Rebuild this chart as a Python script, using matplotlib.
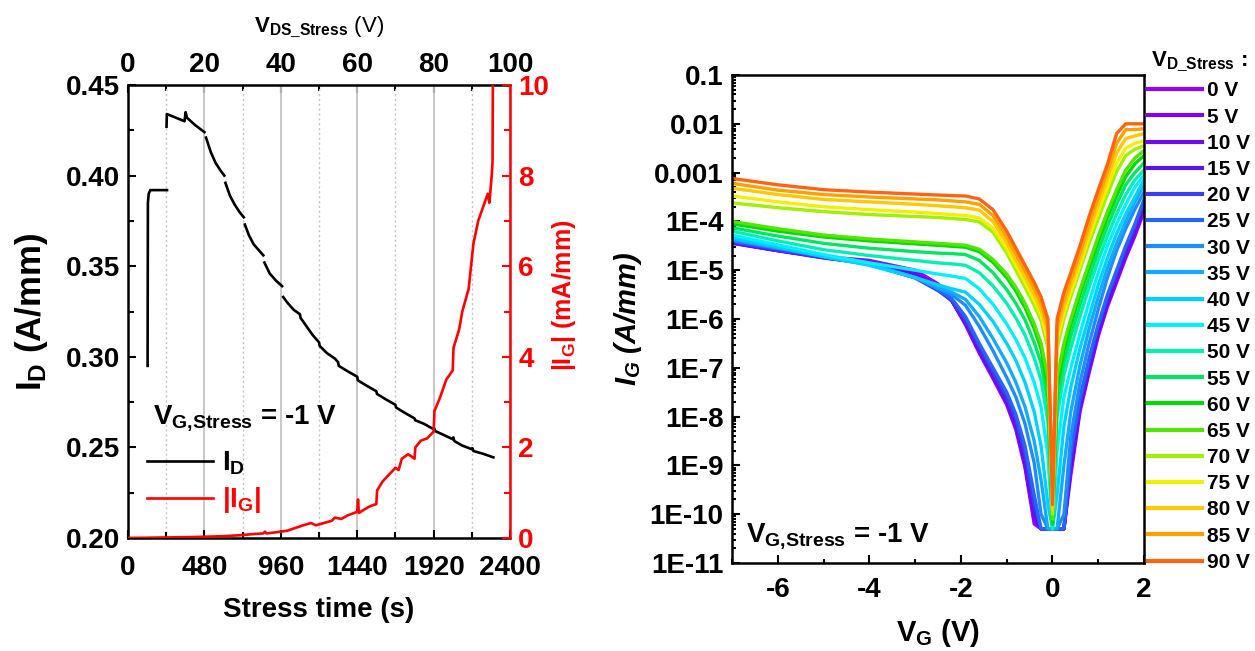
import numpy as np
import matplotlib
matplotlib.use('Agg')
import matplotlib.pyplot as plt
from matplotlib.ticker import MultipleLocator, FuncFormatter, LogLocator, NullFormatter
from matplotlib.lines import Line2D

plt.rcParams['font.family'] = ['Liberation Sans', 'DejaVu Sans']
plt.rcParams['font.weight'] = 'bold'
plt.rcParams['axes.labelweight'] = 'bold'
plt.rcParams['axes.unicode_minus'] = False
plt.rcParams['mathtext.fontset'] = 'custom'
plt.rcParams['mathtext.rm'] = 'Liberation Sans'
plt.rcParams['mathtext.bf'] = 'Liberation Sans:bold'
plt.rcParams['mathtext.it'] = 'Liberation Sans:bold:italic'

# ---------------- Left panel data ----------------
nan = np.nan
id_time = [123, 125, 130, 140, 200, 245, nan,
           242, 244, 300, 355, 362, 370, 420, 480, nan,
           490, 520, 550, 580, 605, nan,
           612, 640, 670, 700, 727, nan,
           734, 760, 790, 820, 850, nan,
           857, 890, 930, 968, nan,
           975, 1000, 1040, 1080, 1084, 1120, 1160, 1200, 1204, 1250, 1300, 1320, 1324,
           1380, 1440, 1444, 1500, 1560, 1564, 1620, 1680, 1684, 1740, 1800, 1804, 1860,
           1920, 1924, 1930, 1980, 2040, 2044, 2050, 2100, 2160, 2164, 2170, 2230, 2295]
id_value = [0.295, 0.385, 0.390, 0.392, 0.392, 0.392, nan,
            0.427, 0.434, 0.432, 0.430, 0.435, 0.432, 0.428, 0.424, nan,
            0.421, 0.413, 0.407, 0.403, 0.400, nan,
            0.396, 0.389, 0.384, 0.380, 0.377, nan,
            0.373, 0.367, 0.362, 0.359, 0.356, nan,
            0.352, 0.346, 0.342, 0.339, nan,
            0.333, 0.330, 0.326, 0.3235, 0.3215, 0.317, 0.312, 0.308, 0.306, 0.302, 0.299, 0.297, 0.295,
            0.292, 0.289, 0.287, 0.284, 0.281, 0.2795, 0.2765, 0.2735, 0.272, 0.269, 0.266, 0.265, 0.263,
            0.260, 0.2605, 0.259, 0.257, 0.2545, 0.2555, 0.2535, 0.251, 0.249, 0.2495, 0.248, 0.2465, 0.2445]

ig_time = [0, 200, 400, 600, 700, 800, 850, 860, 870, 960, 1000, 1050, 1100, 1150, 1180, 1220,
           1280, 1300, 1340, 1380, 1420, 1440, 1445, 1450, 1480, 1520, 1560, 1565, 1600, 1640,
           1680, 1700, 1720, 1760, 1800, 1805, 1840, 1880, 1920, 1925, 1960, 2000, 2040, 2045,
           2080, 2100, 2140, 2170, 2200, 2230, 2260, 2270, 2285, 2290, 2292]
ig_value = [0.0, 0.01, 0.02, 0.04, 0.06, 0.09, 0.10, 0.14, 0.10, 0.14, 0.16, 0.22, 0.28, 0.33, 0.28, 0.32,
            0.38, 0.45, 0.42, 0.50, 0.55, 0.58, 0.85, 0.55, 0.62, 0.70, 0.75, 1.05, 1.25, 1.40,
            1.55, 1.50, 1.75, 1.85, 1.75, 2.00, 2.15, 2.20, 2.35, 2.80, 3.10, 3.50, 3.70, 4.20,
            4.60, 5.00, 5.50, 6.50, 7.00, 7.30, 7.60, 7.40, 8.00, 8.30, 10.0]

# ---------------- Right panel data (log10 of I_G in A/mm) ----------------
vd_stress = [0, 5, 10, 15, 20, 25, 30, 35, 40, 45, 50, 55, 60, 65, 70, 75, 80, 85, 90]
vg_grid = [-7, -6, -5, -4, -3, -2.5, -2.2, -1.9, -1.6, -1.3, -1.0, -0.8, -0.6, -0.4, -0.25, -0.1,
           0, 0.1, 0.25, 0.4, 0.6, 0.8, 1.0, 1.2, 1.4, 1.6, 1.8, 2.0]
ig_log10 = [
    # 0 V
    [-4.45, -4.60, -4.72, -4.80, -5.00, -5.28, -5.62, -6.12, -6.70, -7.22, -7.76, -8.27, -9.05, -10.2,
     -10.3, -10.3, -10.3, -10.3, -10.3, -9.2, -7.90, -7.10, -6.35, -5.75, -5.25, -4.75, -4.30, -3.80],
    # 5 V
    [-4.44, -4.60, -4.74, -4.84, -5.05, -5.33, -5.63, -6.10, -6.66, -7.18, -7.72, -8.22, -9.00, -10.1,
     -10.3, -10.3, -10.3, -10.3, -10.3, -9.1, -7.85, -7.05, -6.30, -5.70, -5.20, -4.70, -4.25, -3.75],
    # 10 V
    [-4.44, -4.60, -4.75, -4.86, -5.10, -5.38, -5.63, -6.08, -6.63, -7.15, -7.68, -8.18, -8.95, -10.0,
     -10.3, -10.3, -10.3, -10.3, -10.3, -9.0, -7.80, -7.00, -6.25, -5.65, -5.15, -4.65, -4.20, -3.70],
    # 15 V
    [-4.43, -4.58, -4.74, -4.87, -5.12, -5.40, -5.62, -6.05, -6.60, -7.12, -7.65, -8.12, -8.85, -9.9,
     -10.3, -10.3, -10.3, -10.3, -10.3, -8.9, -7.75, -6.95, -6.20, -5.60, -5.10, -4.60, -4.15, -3.65],
    # 20 V
    [-4.42, -4.58, -4.74, -4.88, -5.16, -5.42, -5.62, -6.02, -6.56, -7.08, -7.60, -8.05, -8.75, -9.8,
     -10.3, -10.3, -10.3, -10.3, -10.3, -8.8, -7.70, -6.90, -6.15, -5.55, -5.05, -4.55, -4.10, -3.60],
    # 25 V
    [-4.40, -4.56, -4.72, -4.87, -5.15, -5.40, -5.58, -5.95, -6.50, -7.00, -7.50, -7.95, -8.60, -9.6,
     -10.3, -10.3, -10.3, -10.3, -10.3, -8.7, -7.60, -6.80, -6.10, -5.50, -5.00, -4.50, -4.05, -3.55],
    # 30 V
    [-4.38, -4.55, -4.72, -4.87, -5.15, -5.38, -5.50, -5.72, -6.15, -6.65, -7.20, -7.60, -8.15, -8.95,
     -10.0, -10.3, -10.3, -10.3, -10.0, -8.4, -7.30, -6.50, -5.80, -5.15, -4.60, -4.15, -3.75, -3.40],
    # 35 V
    [-4.36, -4.54, -4.72, -4.88, -5.15, -5.35, -5.45, -5.60, -5.95, -6.40, -6.90, -7.30, -7.80, -8.50,
     -9.3, -10.3, -10.3, -10.3, -9.0, -7.9, -6.95, -6.20, -5.55, -4.95, -4.45, -4.00, -3.60, -3.25],
    # 40 V
    [-4.33, -4.52, -4.72, -4.90, -5.15, -5.30, -5.38, -5.45, -5.70, -6.05, -6.50, -6.85, -7.30, -7.90,
     -8.6, -9.8, -10.3, -9.6, -8.2, -7.4, -6.60, -5.95, -5.30, -4.75, -4.25, -3.85, -3.50, -3.15],
    # 45 V
    [-4.28, -4.48, -4.68, -4.85, -5.00, -5.08, -5.12, -5.17, -5.38, -5.70, -6.10, -6.42, -6.80, -7.30,
     -7.8, -8.8, -10.3, -8.7, -7.6, -7.0, -6.30, -5.65, -5.05, -4.50, -4.05, -3.65, -3.30, -3.05],
    # 50 V
    [-4.20, -4.40, -4.58, -4.70, -4.80, -4.85, -4.87, -4.90, -5.05, -5.32, -5.68, -5.98, -6.33, -6.80,
     -7.25, -8.1, -10.3, -8.0, -7.15, -6.6, -5.95, -5.35, -4.80, -4.30, -3.85, -3.45, -3.15, -2.95],
    # 55 V
    [-4.13, -4.30, -4.45, -4.55, -4.62, -4.65, -4.66, -4.68, -4.80, -5.05, -5.40, -5.68, -6.02, -6.48,
     -6.9, -7.7, -10.2, -7.7, -6.9, -6.35, -5.72, -5.15, -4.60, -4.10, -3.65, -3.25, -3.00, -2.80],
    # 60 V
    [-4.05, -4.20, -4.32, -4.40, -4.46, -4.49, -4.51, -4.53, -4.62, -4.84, -5.15, -5.43, -5.77, -6.20,
     -6.62, -7.4, -10.2, -7.4, -6.65, -6.12, -5.50, -4.95, -4.42, -3.92, -3.48, -3.08, -2.82, -2.65],
    # 65 V
    [-4.00, -4.15, -4.28, -4.36, -4.42, -4.45, -4.47, -4.49, -4.57, -4.78, -5.08, -5.35, -5.68, -6.10,
     -6.5, -7.2, -10.1, -7.2, -6.5, -6.0, -5.40, -4.85, -4.30, -3.80, -3.35, -2.95, -2.70, -2.55],
    # 70 V
    [-3.62, -3.72, -3.80, -3.86, -3.90, -3.92, -3.94, -3.96, -4.01, -4.22, -4.65, -5.00, -5.35, -5.72,
     -6.03, -6.6, -10.0, -6.6, -6.0, -5.55, -5.00, -4.45, -3.95, -3.45, -2.98, -2.65, -2.52, -2.45],
    # 75 V
    [-3.48, -3.60, -3.70, -3.76, -3.81, -3.84, -3.86, -3.88, -3.93, -4.14, -4.56, -4.90, -5.25, -5.62,
     -5.92, -6.45, -9.9, -6.45, -5.88, -5.45, -4.90, -4.32, -3.80, -3.30, -2.80, -2.50, -2.40, -2.35],
    # 80 V
    [-3.32, -3.45, -3.55, -3.60, -3.65, -3.68, -3.70, -3.72, -3.77, -4.00, -4.44, -4.79, -5.14, -5.50,
     -5.80, -6.3, -9.9, -6.3, -5.75, -5.32, -4.78, -4.20, -3.65, -3.12, -2.60, -2.30, -2.25, -2.20],
    # 85 V
    [-3.22, -3.36, -3.45, -3.50, -3.54, -3.56, -3.58, -3.60, -3.65, -3.88, -4.32, -4.67, -5.02, -5.38,
     -5.68, -6.15, -9.8, -6.15, -5.60, -5.20, -4.65, -4.05, -3.50, -2.98, -2.40, -2.12, -2.12, -2.10],
    # 90 V
    [-3.12, -3.25, -3.35, -3.40, -3.44, -3.46, -3.47, -3.48, -3.54, -3.76, -4.20, -4.55, -4.90, -5.25,
     -5.55, -6.0, -9.8, -6.0, -5.45, -5.05, -4.50, -3.90, -3.35, -2.83, -2.20, -2.00, -2.00, -2.00],
]
curve_colors = ['#9600ff', '#8200f0', '#6e0af0', '#5a14f0', '#3c3cf0', '#2864fa', '#1e8cfa', '#14aaff',
                '#00d2ff', '#00f0ff', '#00f0b4', '#00e664', '#00dc00', '#50e600', '#a0f000', '#f0f000',
                '#ffc800', '#ffa000', '#ff6414']

# ---------------- Figure ----------------
fig = plt.figure(figsize=(12.55, 6.51), dpi=100)

# ---- Left panel ----
ax = fig.add_axes([0.102, 0.1736, 0.3044, 0.6958])
ax.set_xlim(0, 2400)
ax.set_ylim(0.20, 0.45)
ax.xaxis.set_major_locator(MultipleLocator(480))
ax.xaxis.set_minor_locator(MultipleLocator(240))
ax.yaxis.set_major_locator(MultipleLocator(0.05))
ax.yaxis.set_minor_locator(MultipleLocator(0.025))
ax.yaxis.set_major_formatter(FuncFormatter(lambda v, p: f'{v:.2f}'))
ax.grid(which='major', axis='x', color='#c4c4c4', lw=1.3, ls='-')
ax.grid(which='minor', axis='x', color='#c4c4c4', lw=1.0, ls=(0, (1.5, 2)))
ax.set_axisbelow(True)
ax.tick_params(which='both', direction='in', top=False, right=False, width=1.5)
ax.tick_params(which='major', length=6, labelsize=20, pad=6)
ax.tick_params(axis='x', which='major', pad=12)
ax.tick_params(which='minor', length=4)
for s in ['left', 'bottom', 'top']:
    ax.spines[s].set_linewidth(1.8)
ax.spines['right'].set_visible(False)

ax.plot(id_time, id_value, color='black', lw=1.9)
ax.set_xlabel('Stress time (s)', fontsize=20, labelpad=12)
ax.set_ylabel(r'$\mathbf{I_D}$ (A/mm)', fontsize=25)
ax.yaxis.set_label_coords(-0.205, 0.5)

axr = ax.twinx()
axr.set_ylim(0, 10)
axr.set_xlim(0, 2400)
axr.yaxis.set_major_locator(MultipleLocator(2))
axr.yaxis.set_minor_locator(MultipleLocator(1))
axr.plot(ig_time, ig_value, color='red', lw=1.9)
axr.tick_params(which='both', direction='in', colors='red', width=1.5)
axr.tick_params(which='major', length=6, labelsize=20, pad=6)
axr.tick_params(which='minor', length=4)
axr.spines['right'].set_color('red')
axr.spines['right'].set_linewidth(1.8)
for s in ['left', 'bottom', 'top']:
    axr.spines[s].set_visible(False)
axr.set_ylabel(r'|$\mathbf{I_G}$| (mA/mm)', color='red', fontsize=18)
axr.yaxis.set_label_coords(1.105, 0.535)

top = ax.secondary_xaxis('top', functions=(lambda t: t / 24.0, lambda v: v * 24.0))
top.xaxis.set_major_locator(MultipleLocator(20))
top.xaxis.set_minor_locator(MultipleLocator(10))
top.tick_params(which='both', direction='in', width=1.5, labelsize=20, pad=5)
top.tick_params(which='major', length=6)
top.tick_params(which='minor', length=4)
top.set_xlabel(r'$\mathrm{V_{\mathbf{DS\_Stress}}}$ (V)', fontsize=16, fontweight='normal', labelpad=14)

ax.text(0.065, 0.265, r'$\mathbf{V_{G{,}Stress}}$ = -1 V', transform=ax.transAxes,
        fontsize=20, ha='left', va='center')
h1 = Line2D([], [], color='black', lw=1.9)
h2 = Line2D([], [], color='red', lw=1.9)
leg = ax.legend([h1, h2], [r'$\mathbf{I_D}$', r'|$\mathbf{I_G}$|'], loc='upper left',
                bbox_to_anchor=(0.02, 0.22), frameon=False, fontsize=20,
                handlelength=2.4, handletextpad=0.3, labelspacing=0.3, borderaxespad=0)
leg.get_texts()[1].set_color('red')

# ---- Right panel ----
ax2 = fig.add_axes([0.5833, 0.1352, 0.3283, 0.7496])
vg = np.array(vg_grid)
handles = []
for row, col, vd in zip(ig_log10, curve_colors, vd_stress):
    ln, = ax2.plot(vg, 10.0 ** np.array(row), color=col, lw=2.4, label=f'{vd} V')
    handles.append(ln)
ax2.set_yscale('log')
ax2.set_xlim(-7, 2)
ax2.set_ylim(1e-11, 0.1)
ax2.xaxis.set_major_locator(MultipleLocator(2))
ax2.xaxis.set_minor_locator(MultipleLocator(1))
ax2.yaxis.set_major_locator(LogLocator(base=10, numticks=20))
ax2.yaxis.set_minor_locator(LogLocator(base=10, subs=np.arange(2, 10), numticks=20))
ax2.yaxis.set_minor_formatter(NullFormatter())


def log_fmt(v, p):
    e = int(round(np.log10(v)))
    if e >= -3:
        return f'{v:g}' if e < 0 else f'{v:.0f}'
    return f'1E{e}'


ax2.yaxis.set_major_formatter(FuncFormatter(log_fmt))
ax2.tick_params(which='both', direction='in', top=False, right=False, width=1.5)
ax2.tick_params(which='major', length=6, labelsize=20, pad=6)
ax2.tick_params(axis='x', which='major', pad=10)
ax2.tick_params(which='minor', length=3)
for s in ax2.spines.values():
    s.set_linewidth(1.8)
ax2.set_xlabel(r'$\mathbf{V_G}$ (V)', fontsize=21, labelpad=10)
ax2.set_ylabel(r'$I_G$ (A/mm)', fontsize=21, fontstyle='italic', labelpad=4)
ax2.text(0.035, 0.055, r'$\mathbf{V_{G{,}Stress}}$ = -1 V', transform=ax2.transAxes,
         fontsize=20, ha='left', va='center')

leg2 = ax2.legend(handles=handles, loc='upper left', bbox_to_anchor=(1.0, 1.06), frameon=False,
                  fontsize=15, handlelength=2.6, handletextpad=0.2, labelspacing=0.345,
                  borderaxespad=0, borderpad=0.2,
                  title=r'$\mathbf{V_{D\_Stress}}$ :', title_fontsize=16)
for l in leg2.get_lines():
    l.set_linewidth(3)

fig.savefig('out.png', dpi=100)
